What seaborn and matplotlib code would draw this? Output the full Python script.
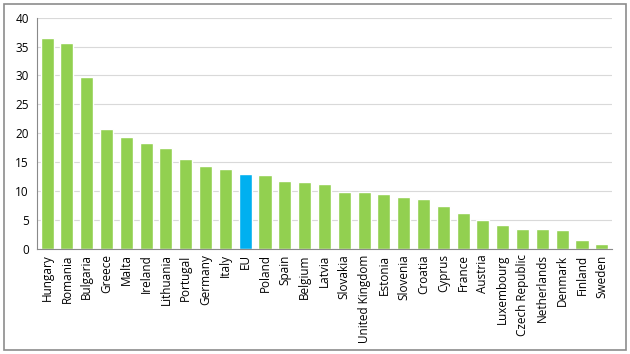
import numpy as np
import matplotlib
matplotlib.use("Agg")
import matplotlib.pyplot as plt
import matplotlib.patches as patches
import pandas as pd
import seaborn as sns

countries = ["Hungary", "Romania", "Bulgaria", "Greece", "Malta", "Ireland",
             "Lithuania", "Portugal", "Germany", "Italy", "EU", "Poland",
             "Spain", "Belgium", "Latvia", "Slovakia", "United Kingdom",
             "Estonia", "Slovenia", "Croatia", "Cyprus", "France", "Austria",
             "Luxembourg", "Czech Republic", "Netherlands", "Denmark",
             "Finland", "Sweden"]
values = [36.5, 35.7, 29.8, 20.7, 19.3, 18.4, 17.5, 15.6, 14.35, 13.8, 13.0,
          12.85, 11.8, 11.5, 11.2, 9.9, 9.9, 9.45, 9.0, 8.7, 7.4, 6.2, 5.0,
          4.1, 3.45, 3.4, 3.3, 1.6, 0.8]

####figure settings####
sns.set_style("white")
plt.rcParams["font.family"] = ["Open Sans", "DejaVu Sans"]
plt.rcParams["xtick.labelsize"] = 8.5
plt.rcParams["ytick.labelsize"] = 8.5
plt.rcParams["text.color"] = "black"
#######################

df = pd.DataFrame({"country": countries, "value": values})
palette = ["#00B0F0" if c == "EU" else "#92D050" for c in countries]

fig = plt.figure(figsize=(6.3, 3.54), dpi=100)
ax = fig.add_axes([0.059, 0.297, 0.912, 0.653])

sns.barplot(data=df, x="country", y="value", hue="country", palette=palette,
            legend=False, width=0.66, saturation=1, ax=ax)

ax.set_ylim(0, 40)
ax.set_xlim(-0.5, len(countries) - 0.5)
ax.set_yticks(np.arange(0, 41, 5))
ax.yaxis.grid(True, color="#d9d9d9", linewidth=0.8)
ax.set_axisbelow(True)
ax.set_xlabel("")
ax.set_ylabel("")

for s in ["top", "right"]:
    ax.spines[s].set_visible(False)
for s in ["left", "bottom"]:
    ax.spines[s].set_color("#898989")
    ax.spines[s].set_linewidth(0.8)

ax.tick_params(axis="x", which="major", length=0, rotation=90, pad=4,
               labelcolor="black")
ax.set_xticks(np.arange(-0.5, len(countries), 1), minor=True)
ax.tick_params(axis="x", which="minor", length=4, color="#898989", width=0.8)
ax.tick_params(axis="y", length=3, color="#898989", width=0.8, pad=3,
               labelcolor="black")

# outer frame
fig.patches.append(patches.Rectangle((0.006, 0.01), 0.988, 0.98,
                                     transform=fig.transFigure, fill=False,
                                     edgecolor="#8c8c8c", linewidth=1.2))

plt.savefig("out.png", dpi=100)
